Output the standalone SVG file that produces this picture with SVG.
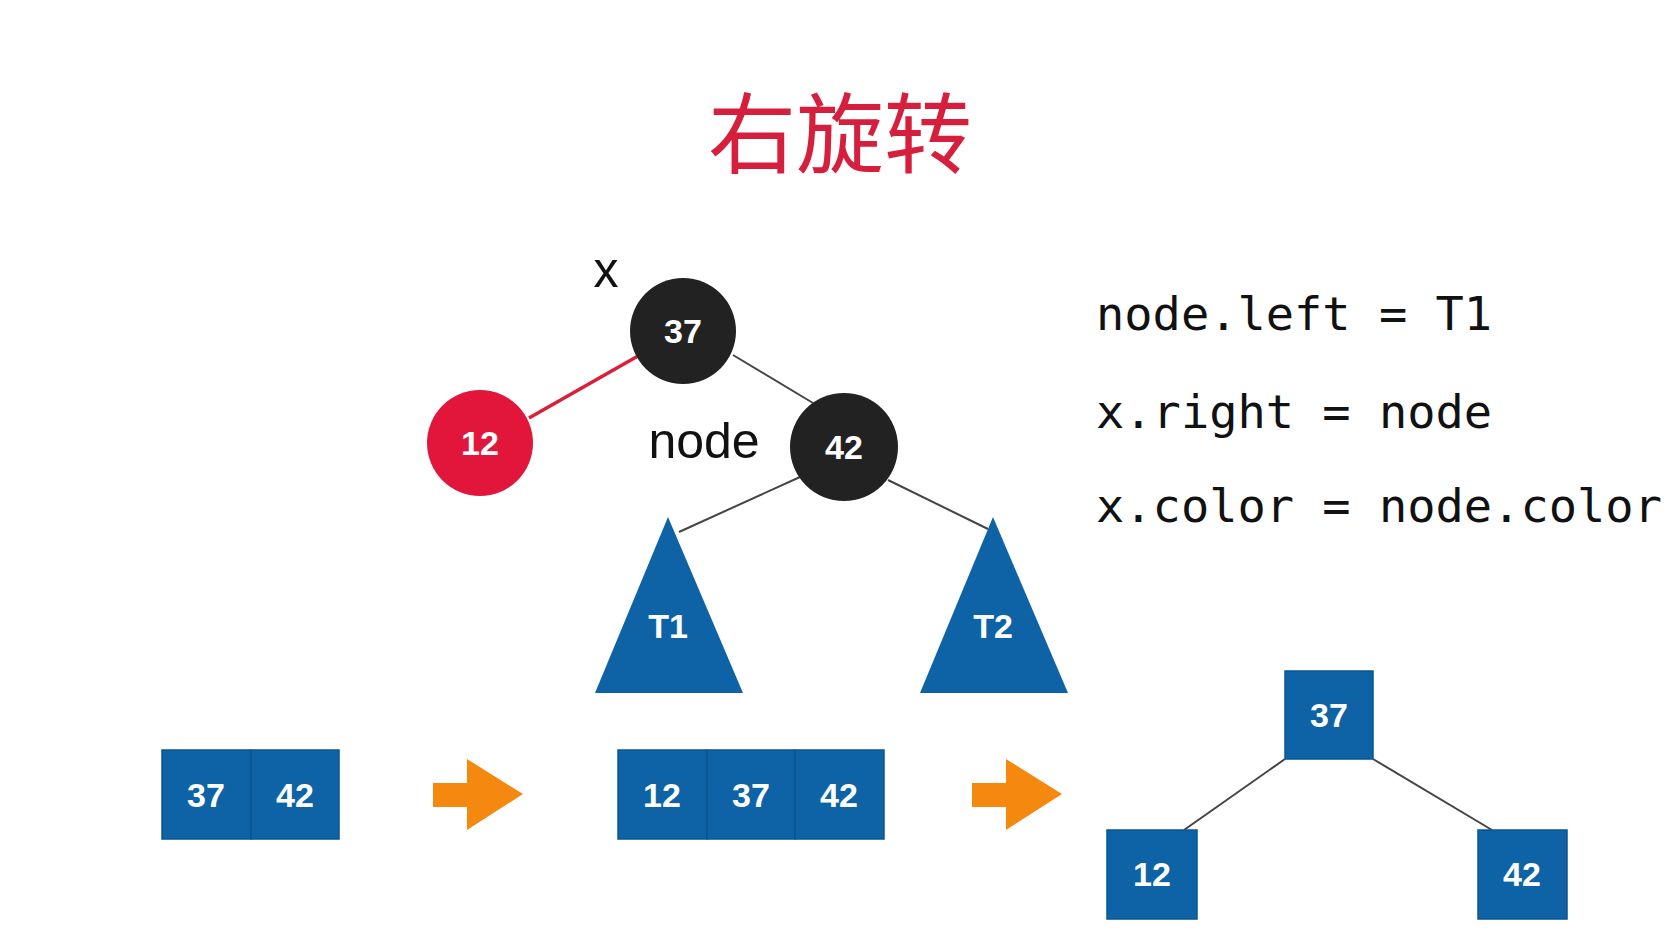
<svg xmlns="http://www.w3.org/2000/svg" width="1673" height="943" viewBox="0 0 1673 943">
<style>
.lbl{font-family:"Liberation Sans",Arial,sans-serif;font-weight:bold;font-size:34px;fill:#fff;text-anchor:middle}
.txt{font-family:"Liberation Sans",Arial,sans-serif;font-size:50px;fill:#111}
.code{font-family:"DejaVu Sans Mono","Liberation Mono",monospace;font-size:47px;fill:#111}
.blk{fill:#222}
.blue{fill:#0d63a5}
.cell{fill:#0d63a5;stroke:#0a5690;stroke-width:1.5}
.edge{stroke:#444;stroke-width:2;fill:none}
.arrow{fill:#f5890f}
</style>
<rect width="1673" height="943" fill="#fff"/>
<text x="840" y="166" text-anchor="middle" style="font-family:'Noto Sans CJK SC','Noto Sans',sans-serif;font-size:88px;fill:#d61f3c">右旋转</text>

<g id="connectors">
  <line x1="529" y1="418" x2="638" y2="356" stroke="#d9203a" stroke-width="3.5"/>
  <line class="edge" x1="733" y1="355" x2="813" y2="403"/>
  <line class="edge" x1="800" y1="477" x2="679" y2="532"/>
  <line class="edge" x1="888" y1="480" x2="988" y2="529"/>
  <line class="edge" x1="1285" y1="759" x2="1184" y2="830"/>
  <line class="edge" x1="1373" y1="759" x2="1492" y2="830"/>
</g>

<g id="label-x"><text class="txt" x="606" y="287" text-anchor="middle">x</text></g>
<g id="label-node"><text class="txt" x="704" y="458" text-anchor="middle">node</text></g>

<g id="n37"><circle class="blk" cx="683" cy="331" r="53"/><text class="lbl" x="683" y="343">37</text></g>
<g id="n12"><circle cx="480" cy="443" r="53" fill="#e2163a"/><text class="lbl" x="480" y="455">12</text></g>
<g id="n42"><circle class="blk" cx="844" cy="447" r="54"/><text class="lbl" x="844" y="459">42</text></g>

<g id="T1"><polygon class="blue" points="668,517 743,693 595,693"/><text class="lbl" x="668" y="638">T1</text></g>
<g id="T2"><polygon class="blue" points="993,517 1068,693 920,693"/><text class="lbl" x="993" y="638">T2</text></g>

<g id="code">
  <text class="code" x="1096" y="330">node.left = T1</text>
  <text class="code" x="1096" y="428">x.right = node</text>
  <text class="code" x="1096" y="522">x.color = node.color</text>
</g>

<g id="arr1">
  <rect class="cell" x="162" y="750" width="89" height="89"/><text class="lbl" x="206" y="807">37</text>
  <rect class="cell" x="251" y="750" width="88" height="89"/><text class="lbl" x="295" y="807">42</text>
</g>
<g id="arrow1"><polygon class="arrow" points="433,783 467,783 467,759 523,794 467,830 467,807 433,807"/></g>
<g id="arr2">
  <rect class="cell" x="618" y="750" width="89" height="89"/><text class="lbl" x="662" y="807">12</text>
  <rect class="cell" x="707" y="750" width="88" height="89"/><text class="lbl" x="751" y="807">37</text>
  <rect class="cell" x="795" y="750" width="89" height="89"/><text class="lbl" x="839" y="807">42</text>
</g>
<g id="arrow2"><polygon class="arrow" points="972,783 1006,783 1006,759 1062,794 1006,830 1006,807 972,807"/></g>

<g id="b37"><rect class="cell" x="1285" y="671" width="88" height="88"/><text class="lbl" x="1329" y="727">37</text></g>
<g id="b12"><rect class="cell" x="1107" y="830" width="90" height="89"/><text class="lbl" x="1152" y="886">12</text></g>
<g id="b42"><rect class="cell" x="1478" y="830" width="89" height="89"/><text class="lbl" x="1522" y="886">42</text></g>
</svg>
